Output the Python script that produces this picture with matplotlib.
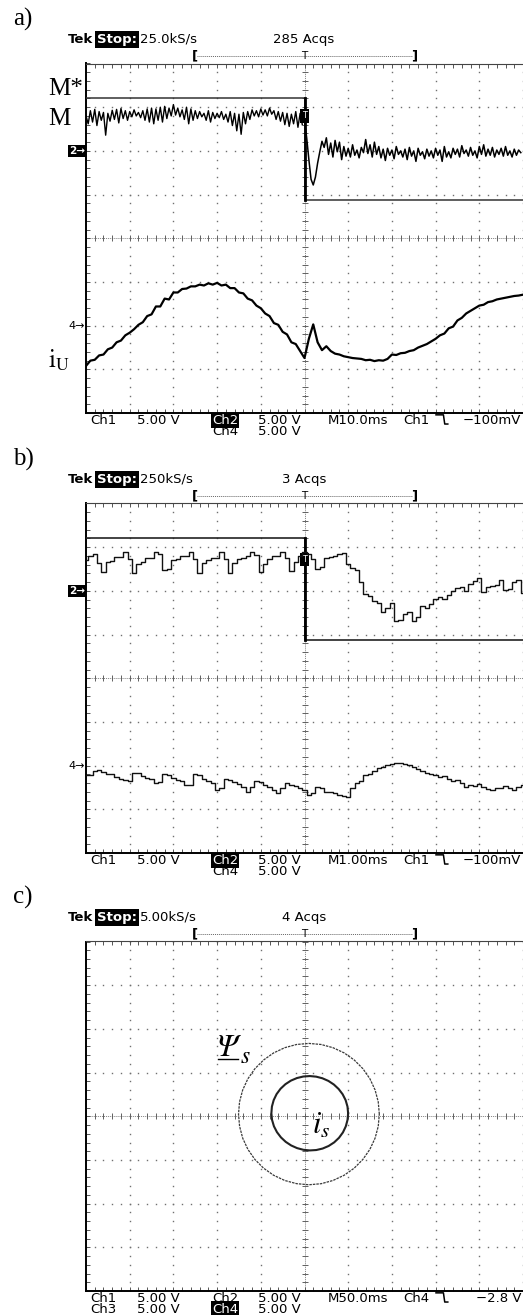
import numpy as np
import matplotlib.pyplot as plt

plt.rcParams['mathtext.fontset'] = 'stix'

W, H = 523, 1315
DIV = 43.7  # pixels per graticule division

# ---------------- data (screen divisions, 0 = screen centre) ----------------
# panel a) M10.0ms/div
a_ms_div = 10.0
a_t_before = np.linspace(-50, -0.5, 100)
a_t_after = np.linspace(0, 49.5, 100)
a_t = np.linspace(-50, 50, 101)
a_mref_t = [-50, 0, 0, 50]
a_mref = [3.2, 3.2, 0.88, 0.88]
a_m_before = [2.80, 2.62, 2.92, 2.66, 2.95, 2.58, 2.90, 2.70, 2.88, 2.36,
              2.86, 2.68, 2.93, 2.72, 2.95, 2.64, 2.97, 2.74, 2.92, 2.70,
              2.90, 2.78, 2.94, 2.80, 2.88, 2.76, 2.92, 2.70, 2.96, 2.66,
              2.98, 2.62, 2.96, 2.70, 3.00, 2.66, 3.02, 2.74, 2.98, 2.80,
              3.06, 2.82, 2.98, 2.78, 2.94, 2.72, 3.00, 2.62, 2.96, 2.70,
              2.92, 2.74, 2.90, 2.78, 2.86, 2.70, 2.92, 2.66, 2.88, 2.74,
              2.86, 2.76, 2.90, 2.72, 2.84, 2.66, 2.90, 2.58, 2.86, 2.46,
              2.84, 2.38, 2.88, 2.62, 2.90, 2.72, 2.94, 2.80, 2.92, 2.78,
              2.96, 2.82, 2.94, 2.80, 2.98, 2.84, 2.92, 2.72, 2.90, 2.68,
              2.88, 2.60, 2.86, 2.56, 2.84, 2.62, 2.90, 2.54, 2.86, 2.60]
a_m_after = [2.70, 2.30, 1.80, 1.35, 1.22, 1.40, 1.72, 1.98, 2.22, 2.08,
             2.30, 1.92, 2.18, 1.86, 2.24, 1.98, 2.20, 1.80, 2.10, 1.88,
             2.06, 1.86, 2.14, 1.90, 2.02, 1.84, 2.08, 1.96, 2.26, 1.94,
             2.14, 1.86, 2.20, 1.92, 2.10, 1.84, 2.04, 1.78, 2.06, 1.90,
             2.02, 1.82, 2.10, 1.92, 2.00, 1.86, 2.04, 1.80, 2.08, 1.88,
             2.00, 1.76, 2.06, 1.90, 1.98, 1.82, 2.04, 1.88, 2.00, 1.84,
             2.06, 1.90, 2.02, 1.76, 2.10, 1.86, 1.98, 1.84, 2.06, 1.92,
             2.04, 1.86, 2.12, 1.94, 2.02, 1.88, 2.08, 1.90, 2.00, 1.84,
             2.10, 1.92, 2.14, 1.88, 2.04, 1.90, 2.08, 1.86, 2.02, 1.92,
             2.06, 1.88, 2.10, 1.90, 2.00, 1.86, 2.04, 1.90, 2.02, 1.96]
a_iu = [-2.92, -2.80, -2.78, -2.68, -2.66, -2.54, -2.50, -2.38, -2.34, -2.22,
        -2.16, -2.08, -1.98, -1.92, -1.78, -1.74, -1.56, -1.56, -1.38, -1.40,
        -1.24, -1.24, -1.16, -1.15, -1.10, -1.10, -1.06, -1.08, -1.03, -1.06,
        -1.02, -1.08, -1.06, -1.14, -1.14, -1.24, -1.26, -1.38, -1.42, -1.54,
        -1.60, -1.72, -1.78, -1.94, -1.98, -2.14, -2.20, -2.38, -2.42, -2.58,
        -2.74, -2.30, -1.97, -2.38, -2.56, -2.47, -2.58, -2.64, -2.66, -2.70,
        -2.72, -2.74, -2.75, -2.76, -2.79, -2.78, -2.81, -2.79, -2.80, -2.76,
        -2.66, -2.67, -2.63, -2.62, -2.58, -2.56, -2.50, -2.46, -2.42, -2.36,
        -2.30, -2.22, -2.18, -2.06, -2.02, -1.88, -1.82, -1.72, -1.66, -1.60,
        -1.54, -1.52, -1.46, -1.44, -1.40, -1.38, -1.36, -1.34, -1.32, -1.31,
        -1.29]

# panel b) M1.00ms/div
b_ms_div = 1.0
b_t = np.linspace(-5, 5, 101)
b_mref_t = [-5, 0, 0, 5]
b_mref = [3.2, 3.2, 0.88, 0.88]
b_m = [2.70, 2.80, 2.84, 2.64, 2.44, 2.66, 2.68, 2.78, 2.78, 2.88,
       2.74, 2.42, 2.62, 2.66, 2.76, 2.76, 2.90, 2.84, 2.48, 2.50,
       2.70, 2.72, 2.80, 2.80, 2.90, 2.72, 2.40, 2.64, 2.70, 2.76,
       2.76, 2.88, 2.72, 2.42, 2.64, 2.72, 2.76, 2.80, 2.90, 2.82,
       2.44, 2.62, 2.74, 2.80, 2.80, 2.90, 2.76, 2.46, 2.66, 2.80,
       2.88, 2.84, 2.72, 2.50, 2.54, 2.76, 2.78, 2.80, 2.84, 2.86,
       2.62, 2.52, 2.48, 2.20, 1.92, 1.88, 1.76, 1.72, 1.52, 1.60,
       1.72, 1.32, 1.34, 1.48, 1.52, 1.32, 1.40, 1.66, 1.62, 1.70,
       1.82, 1.86, 1.82, 1.90, 2.00, 2.06, 2.10, 2.00, 2.16, 2.22,
       2.30, 1.98, 2.08, 2.12, 2.14, 2.26, 2.02, 2.04, 2.20, 2.26,
       1.96]
b_iu = [-2.21, -2.22, -2.12, -2.10, -2.14, -2.18, -2.18, -2.26, -2.30, -2.32,
        -2.34, -2.17, -2.16, -2.24, -2.28, -2.30, -2.40, -2.38, -2.19, -2.22,
        -2.28, -2.32, -2.36, -2.44, -2.44, -2.19, -2.22, -2.30, -2.34, -2.40,
        -2.56, -2.50, -2.30, -2.32, -2.38, -2.42, -2.48, -2.60, -2.48, -2.34,
        -2.38, -2.44, -2.48, -2.56, -2.63, -2.52, -2.40, -2.44, -2.46, -2.52,
        -2.56, -2.67, -2.62, -2.48, -2.50, -2.60, -2.60, -2.62, -2.66, -2.70,
        -2.71, -2.50, -2.40, -2.36, -2.22, -2.20, -2.12, -2.06, -2.02, -1.98,
        -1.96, -1.93, -1.94, -1.96, -1.98, -2.02, -2.08, -2.12, -2.16, -2.20,
        -2.22, -2.26, -2.24, -2.30, -2.34, -2.32, -2.40, -2.48, -2.44, -2.46,
        -2.42, -2.48, -2.54, -2.56, -2.50, -2.52, -2.46, -2.50, -2.56, -2.48,
        -2.45]

# panel c) XY mode: flux and current loci, radius read every 10 degrees
c_angle = np.deg2rad(np.arange(0, 370, 10))
c_psi_centre = (0.10, 0.05)
c_psi_r = [1.612, 1.612, 1.613, 1.614, 1.615, 1.616, 1.617, 1.617, 1.618, 1.618,
           1.618, 1.617, 1.616, 1.615, 1.614, 1.613, 1.612, 1.611, 1.610, 1.610,
           1.611, 1.612, 1.613, 1.614, 1.615, 1.616, 1.616, 1.617, 1.617, 1.616,
           1.615, 1.614, 1.613, 1.612, 1.612, 1.612, 1.612]
c_is_centre = (0.12, 0.07)
c_is_r = [0.878, 0.877, 0.874, 0.869, 0.863, 0.858, 0.854, 0.851, 0.850, 0.851,
          0.853, 0.857, 0.862, 0.867, 0.872, 0.876, 0.878, 0.879, 0.878, 0.876,
          0.872, 0.866, 0.860, 0.855, 0.851, 0.849, 0.849, 0.851, 0.855, 0.860,
          0.865, 0.870, 0.874, 0.877, 0.878, 0.878, 0.878]

# header / footer texts
headers = [('a)', '25.0kS/s', '285 Acqs'), ('b)', '250kS/s', '3 Acqs'), ('c)', '5.00kS/s', '4 Acqs')]

SCOPE = 'DejaVu Sans'
SERIF = 'Liberation Serif'


def px2x(px):
    return (px - 304.5) / DIV


def scope_axes(fig, top_px):
    ax = fig.add_axes([86 / W, 1 - (top_px + 8 * DIV) / H, 10 * DIV / W, 8 * DIV / H])
    ax.set_xlim(-5, 5)
    ax.set_ylim(-4, 4)
    ax.set_facecolor('white')
    minor_x = np.linspace(-5, 5, 51)
    minor_y = np.linspace(-4, 4, 41)
    dot = dict(ls='none', marker='s', ms=1.0, mew=0, color='#707070', zorder=1)
    for gx in [-4, -3, -2, -1, 1, 2, 3, 4, 5]:
        ax.plot(np.full(41, gx), minor_y, **dot)
    for gy in [-3, -2, -1, 1, 2, 3]:
        ax.plot(minor_x, np.full(51, gy), **dot)
    ax.axhline(0, color='#808080', lw=0.7, ls=(0, (1, 1)), zorder=1)
    ax.axvline(0, color='#808080', lw=0.7, ls=(0, (1, 1)), zorder=1)
    ax.plot(minor_x, np.zeros(51), ls='none', marker='|', ms=4.5, mew=0.7, color='#606060', zorder=1)
    ax.plot(np.zeros(41), minor_y, ls='none', marker='_', ms=4.5, mew=0.7, color='#606060', zorder=1)
    ax.set_xticks(minor_x)
    ax.set_yticks(minor_y)
    ax.tick_params(direction='in', length=3, width=0.7, color='#555555', top=True,
                   right=False, labelbottom=False, labelleft=False)
    for side in ['left', 'bottom']:
        ax.spines[side].set_linewidth(1.4)
        ax.spines[side].set_color('black')
    ax.spines['top'].set_linewidth(0.8)
    ax.spines['top'].set_color('#444444')
    ax.spines['right'].set_visible(False)
    return ax


def st(ax, x, y, s, **kw):
    opts = dict(fontsize=9.5, family=SCOPE, va='center', ha='left', clip_on=False)
    opts.update(kw)
    return ax.text(x, y, s, **opts)


def header(ax, label, rate, acqs):
    ax.text(-6.67, 5.0, label, fontsize=18, family=SERIF, va='center', ha='left', clip_on=False)
    st(ax, px2x(68), 4.55, 'Tek', fontweight='bold')
    st(ax, px2x(97), 4.55, 'Stop:', color='white', fontweight='bold',
       bbox=dict(boxstyle='square,pad=0.12', fc='black', ec='none'))
    st(ax, px2x(140), 4.55, rate)
    st(ax, px2x(304), 4.55, acqs, ha='center')
    yb = 4.17
    ax.plot([-2.45, 2.45], [yb, yb], color='#666666', lw=0.7, ls=(0, (1, 1)), clip_on=False)
    st(ax, -2.5, yb, '[', ha='center', fontsize=9.5, fontweight='bold')
    st(ax, 2.5, yb, ']', ha='center', fontsize=9.5, fontweight='bold')
    st(ax, 0, yb, 'T', ha='center', fontsize=7.5)


def trig_symbol(ax, x, y):
    ax.plot([x, x + 0.17, x + 0.2, x + 0.27], [y + 0.1, y + 0.1, y - 0.11, y - 0.11],
            color='black', lw=1.1, clip_on=False)


def footer(ax, tb, ch_hi, trig_ch, trig_lvl, row2):
    y1, y2 = -4.16, -4.41
    st(ax, px2x(90), y1, 'Ch1')
    st(ax, px2x(137), y1, '5.00 V')
    hi = dict(color='white', bbox=dict(boxstyle='square,pad=0.08', fc='black', ec='none'))
    if ch_hi == 'Ch2':
        st(ax, px2x(212), y1, 'Ch2', **hi)
    else:
        st(ax, px2x(212), y1, 'Ch2')
    st(ax, px2x(258), y1, '5.00 V')
    st(ax, px2x(328), y1, tb)
    st(ax, px2x(403), y1, trig_ch)
    trig_symbol(ax, px2x(436), y1 + 0.02)
    st(ax, px2x(521), y1, trig_lvl, ha='right')
    for xpx, txt in row2:
        if txt == ch_hi:
            st(ax, px2x(xpx), y2, txt, **hi)
        else:
            st(ax, px2x(xpx), y2, txt)


def ch_markers(ax):
    st(ax, -5.03, 2.0, '2\u2192', ha='right', color='white', fontsize=7.5, fontweight='bold',
       bbox=dict(boxstyle='square,pad=0.1', fc='black', ec='none'))
    st(ax, -5.03, -2.0, '4\u2192', ha='right', fontsize=8)


fig = plt.figure(figsize=(W / 100, H / 100), dpi=100)

# ---- a) ----
ax = scope_axes(fig, 63.5)
header(ax, *headers[0])
ch_markers(ax)
ax.plot(np.array(a_mref_t) / a_ms_div, a_mref, color='#333333', lw=1.1, zorder=3)
ax.plot([0, 0], [a_mref[1], a_mref[2]], color='black', lw=2.0, zorder=3)
ax.plot(a_t_before / a_ms_div, a_m_before, color='black', lw=1.0, zorder=4)
ax.plot(a_t_after / a_ms_div, a_m_after, color='black', lw=1.1, zorder=4)
ax.plot(a_t / a_ms_div, a_iu, color='black', lw=1.6, zorder=4)
st(ax, 0, 2.8, 'T', ha='center', color='white', fontsize=6,
   bbox=dict(boxstyle='square,pad=0.25', fc='black', ec='none'))
ax.text(-5.87, 3.28, 'M*', fontsize=18, family=SERIF, va='baseline', clip_on=False)
ax.text(-5.87, 2.60, 'M', fontsize=18, family=SERIF, va='baseline', clip_on=False)
ax.text(-5.87, -2.96, r'$\mathrm{i}_{\mathrm{U}}$', fontsize=18, va='baseline', clip_on=False)
footer(ax, 'M10.0ms', 'Ch2', 'Ch1', '\u2212100mV', [(212, 'Ch4'), (258, '5.00 V')])

# ---- b) ----
ax = scope_axes(fig, 503.5)
header(ax, *headers[1])
ch_markers(ax)
ax.plot(np.array(b_mref_t) / b_ms_div, b_mref, color='#222222', lw=1.2, zorder=3)
ax.plot([0, 0], [b_mref[1], b_mref[2]], color='black', lw=2.0, zorder=3)
ax.plot(b_t / b_ms_div, b_m, color='#111111', lw=1.0, drawstyle='steps-mid', zorder=4)
ax.plot(b_t / b_ms_div, b_iu, color='#111111', lw=1.0, drawstyle='steps-mid', zorder=4)
st(ax, 0, 2.72, 'T', ha='center', color='white', fontsize=6,
   bbox=dict(boxstyle='square,pad=0.25', fc='black', ec='none'))
footer(ax, 'M1.00ms', 'Ch2', 'Ch1', '\u2212100mV', [(212, 'Ch4'), (258, '5.00 V')])

# ---- c) ----
ax = scope_axes(fig, 941.5)
header(ax, *headers[2])
psi_x = c_psi_centre[0] + np.array(c_psi_r) * np.cos(c_angle)
psi_y = c_psi_centre[1] + np.array(c_psi_r) * np.sin(c_angle)
is_x = c_is_centre[0] + np.array(c_is_r) * np.cos(c_angle)
is_y = c_is_centre[1] + np.array(c_is_r) * np.sin(c_angle)
ax.plot(psi_x, psi_y, color='#3a3a3a', lw=0.9, ls=(0, (2, 0.8)), zorder=4)
ax.plot(is_x, is_y, color='#222222', lw=1.5, zorder=4)
ax.text(-2.02, 1.37, '\u03a8', fontsize=22, family='STIXGeneral', style='italic',
        va='baseline', clip_on=False)
ax.plot([-1.98, -1.53], [1.30, 1.30], color='black', lw=1.0)
ax.text(-1.47, 1.22, 's', fontsize=17, family='STIXGeneral', style='italic',
        va='baseline', clip_on=False)
ax.text(0.17, -0.39, r'$i_s$', fontsize=22, va='baseline', clip_on=False)
footer(ax, 'M50.0ms', 'Ch4', 'Ch4', '\u22122.8 V',
       [(90, 'Ch3'), (137, '5.00 V'), (212, 'Ch4'), (258, '5.00 V')])

fig.savefig('out.png', dpi=100)
